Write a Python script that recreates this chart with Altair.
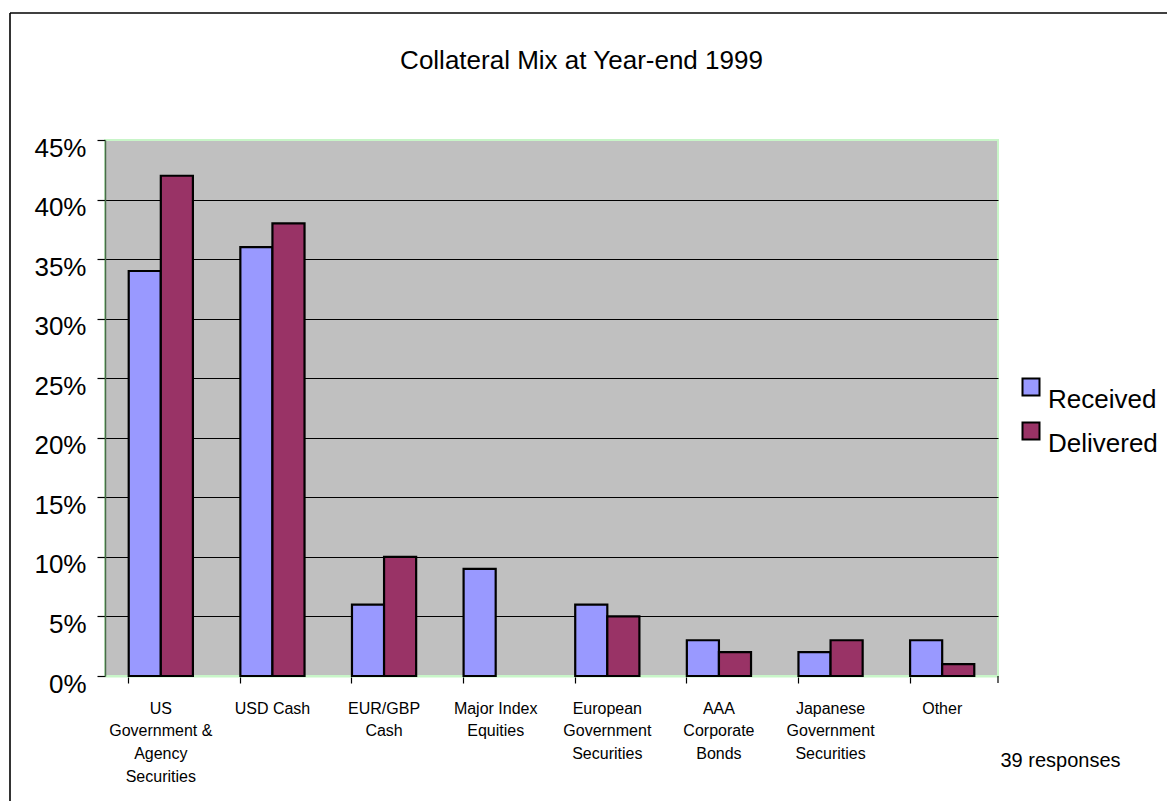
import altair as alt
import pandas as pd

# Collateral types (line breaks mark where the axis labels wrap)
categories = [
    "US\nGovernment &\nAgency\nSecurities",
    "USD Cash",
    "EUR/GBP\nCash",
    "Major Index\nEquities",
    "European\nGovernment\nSecurities",
    "AAA\nCorporate\nBonds",
    "Japanese\nGovernment\nSecurities",
    "Other",
]
received = [0.34, 0.36, 0.06, 0.09, 0.06, 0.03, 0.02, 0.03]
delivered = [0.42, 0.38, 0.10, 0.00, 0.05, 0.02, 0.03, 0.01]
series = ["Received", "Delivered"]
series_colors = ["#9999FF", "#993366"]
y_ticks = [0, 0.05, 0.10, 0.15, 0.20, 0.25, 0.30, 0.35, 0.40, 0.45]
note = "39 responses"
title = "Collateral Mix at Year-end 1999"

FONT = "Liberation Sans"
W, H = 893, 536

rows = []
for c, r, d in zip(categories, received, delivered):
    rows.append({"category": c, "series": series[0], "share": r})
    rows.append({"category": c, "series": series[1], "share": d})
df = pd.DataFrame(rows)

bars = (
    alt.Chart(df)
    .transform_filter("datum.share > 0")
    .mark_bar(stroke="black", strokeWidth=2.2, strokeJoin="miter")
    .encode(
        x=alt.X(
            "category:N",
            sort=categories,
            scale=alt.Scale(paddingInner=0.425, paddingOuter=0.2125),
            axis=alt.Axis(
                title=note,
                titleFont=FONT,
                titleFontSize=20,
                titleFontWeight="normal",
                titleColor="black",
                titleX=895,
                titleY=90,
                titleAlign="left",
                titleBaseline="alphabetic",
                labelExpr="split(datum.label, '\\n')",
                labelAngle=0,
                labelFont=FONT,
                labelFontSize=16,
                labelColor="black",
                labelLineHeight=22.7,
                labelPadding=17,
                labelBaseline="top",
                bandPosition=0,
                tickSize=7,
                tickColor="black",
                tickWidth=1.2,
                domainColor="#c8f5c8",
                domainWidth=2,
                grid=False,
            ),
        ),
        xOffset=alt.XOffset(
            "series:N",
            sort=series,
            scale=alt.Scale(paddingInner=0, paddingOuter=0),
        ),
        y=alt.Y(
            "share:Q",
            scale=alt.Scale(domain=[0, 0.45], nice=False),
            axis=alt.Axis(
                title=None,
                values=y_ticks,
                format=".0%",
                labelFont=FONT,
                labelFontSize=26,
                labelColor="black",
                labelPadding=11,
                labelOffset=8,
                tickSize=8,
                tickColor="black",
                tickWidth=1.2,
                domainColor="#4a6b4a",
                domainWidth=1.5,
                grid=True,
                gridColor={
                    "condition": {
                        "test": "datum.value <= 0 || datum.value >= 0.449",
                        "value": "transparent",
                    },
                    "value": "black",
                },
                gridWidth=1.2,
            ),
        ),
        color=alt.Color(
            "series:N",
            sort=series,
            scale=alt.Scale(domain=series, range=series_colors),
            legend=alt.Legend(
                title=None,
                orient="none",
                legendX=913,
                legendY=234,
                symbolType="square",
                symbolSize=289,
                symbolStrokeColor="black",
                symbolStrokeWidth=2,
                symbolOpacity=1,
                labelFont=FONT,
                labelFontSize=26,
                labelColor="black",
                labelBaseline="top",
                labelOffset=4,
                rowPadding=5,
            ),
        ),
    )
)

anchor = alt.Chart(pd.DataFrame({"k": [0]}))

# outer chart frame (top and left edges)
frame_top = anchor.mark_rule(color="black", strokeWidth=1.6).encode(
    x=alt.value(-95), x2=alt.value(1062), y=alt.value(-127), y2=alt.value(-127)
)
frame_left = anchor.mark_rule(color="black", strokeWidth=1.6).encode(
    x=alt.value(-95), x2=alt.value(-95), y=alt.value(-127), y2=alt.value(700)
)
# closing tick at the right end of the category axis
end_tick = anchor.mark_rule(color="black", strokeWidth=1.2).encode(
    x=alt.value(W), x2=alt.value(W), y=alt.value(H), y2=alt.value(H + 7)
)

chart = (
    alt.layer(bars, frame_top, frame_left, end_tick)
    .properties(
        width=W,
        height=H,
        autosize=alt.AutoSizeParams(type="none"),
        padding={"left": 105, "top": 140, "right": 1167 - 105 - W, "bottom": 801 - 140 - H},
        background="white",
        title=alt.TitleParams(
            title,
            font=FONT,
            fontSize=26,
            fontWeight="normal",
            color="black",
            anchor="middle",
            frame="group",
            dx=30,
            baseline="alphabetic",
            offset=-83,
        ),
    )
    .configure_view(fill="#C0C0C0", stroke="#c8f5c8", strokeWidth=2)
)

chart.save("out.html", embed_options={"renderer": "svg", "actions": False})
